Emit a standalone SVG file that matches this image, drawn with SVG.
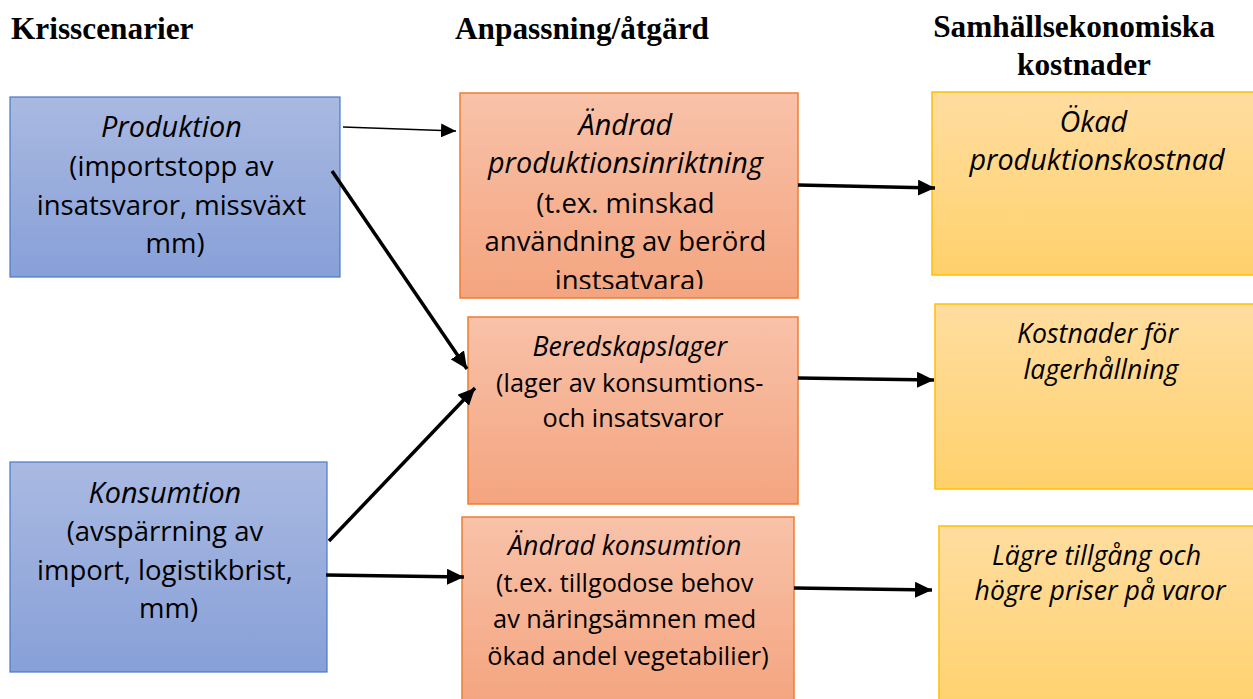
<svg xmlns="http://www.w3.org/2000/svg" width="1253" height="699" viewBox="0 0 1253 699">
  <defs>
    <linearGradient id="gBlue" x1="0" y1="0" x2="0" y2="1">
      <stop offset="0" stop-color="#A9B9E1"/>
      <stop offset="1" stop-color="#88A0D8"/>
    </linearGradient>
    <linearGradient id="gOrange" x1="0" y1="0" x2="0" y2="1">
      <stop offset="0" stop-color="#F8C2A9"/>
      <stop offset="1" stop-color="#F4A47F"/>
    </linearGradient>
    <linearGradient id="gYellow" x1="0" y1="0" x2="0" y2="1">
      <stop offset="0" stop-color="#FFDDA0"/>
      <stop offset="1" stop-color="#FFD16C"/>
    </linearGradient>
    <marker id="headThick" markerUnits="userSpaceOnUse" markerWidth="18" markerHeight="16" refX="17" refY="8" orient="auto">
      <path d="M0,0 L17,8 L0,16 Z" fill="#000"/>
    </marker>
    <marker id="headThin" markerUnits="userSpaceOnUse" markerWidth="16" markerHeight="14" refX="15" refY="7" orient="auto">
      <path d="M0,0 L15,7 L0,14 Z" fill="#000"/>
    </marker>
    <clipPath id="clipProd">
      <rect x="460" y="93" width="338" height="196"/>
    </clipPath>
    <style>
      .hdr { font-family: "Liberation Serif", "Times New Roman", serif; font-weight: bold; font-size: 31.3px; fill: #000; }
      .t { font-family: "Open Sans", "Noto Sans", sans-serif; fill: #000; text-anchor: middle; }
      .big { font-size: 27.5px; }
      .mid { font-size: 25.3px; }
      .itb { font-style: italic; font-size: 28.8px; }
      .itm { font-style: italic; font-size: 26.7px; }
      .blue { fill: url(#gBlue); stroke: #4A78C8; stroke-width: 1.2; }
      .orange { fill: url(#gOrange); stroke: #ED7D31; stroke-width: 1.5; }
      .yellow { fill: url(#gYellow); stroke: #FFC000; stroke-width: 1.5; }
      .thick { stroke: #000; stroke-width: 3.5; fill: none; marker-end: url(#headThick); }
      .thin { stroke: #000; stroke-width: 1.5; fill: none; marker-end: url(#headThin); }
    </style>
  </defs>

  <!-- column headings -->
  <g id="headings">
    <text class="hdr" x="11" y="39">Krisscenarier</text>
    <text class="hdr" x="455" y="39">Anpassning/åtgärd</text>
    <text class="hdr" x="1074" y="37" text-anchor="middle">Samhällsekonomiska</text>
    <text class="hdr" x="1084" y="75" text-anchor="middle">kostnader</text>
  </g>

  <!-- crisis scenarios -->
  <g id="produktion">
    <rect class="blue" x="10" y="97" width="330" height="180"/>
    <text class="t big" x="175">
      <tspan class="itb" x="175" y="137">Produktion</tspan>
      <tspan x="175" y="176">(importstopp av</tspan>
      <tspan x="175" y="215">insatsvaror, missväxt</tspan>
      <tspan x="175" y="253">mm)</tspan>
    </text>
  </g>

  <g id="konsumtion">
    <rect class="blue" x="10" y="462" width="317" height="210"/>
    <text class="t big" x="168.5">
      <tspan class="itb" x="168.5" y="503">Konsumtion</tspan>
      <tspan x="168.5" y="541">(avspärrning av</tspan>
      <tspan x="168.5" y="580">import, logistikbrist,</tspan>
      <tspan x="168.5" y="618">mm)</tspan>
    </text>
  </g>

  <!-- adaptation / measures -->
  <g id="andrad-produktion">
    <rect class="orange" x="460" y="93" width="338" height="205"/>
    <text class="t big" x="629" clip-path="url(#clipProd)">
      <tspan class="itb" x="629" y="135">Ändrad</tspan>
      <tspan class="itb" x="629" y="173">produktionsinriktning</tspan>
      <tspan x="629" y="213">(t.ex. minskad</tspan>
      <tspan x="629" y="251">användning av berörd</tspan>
      <tspan x="629" y="290">instsatvara)</tspan>
    </text>
  </g>

  <g id="beredskapslager">
    <rect class="orange" x="468" y="317" width="330" height="187"/>
    <text class="t mid" x="633">
      <tspan class="itm" x="633" y="356">Beredskapslager</tspan>
      <tspan x="633" y="392">(lager av konsumtions-</tspan>
      <tspan x="633" y="427">och insatsvaror</tspan>
    </text>
  </g>

  <g id="andrad-konsumtion">
    <rect class="orange" x="462" y="517" width="332" height="190"/>
    <text class="t mid" x="628">
      <tspan class="itm" x="628" y="555">Ändrad konsumtion</tspan>
      <tspan x="628" y="592">(t.ex. tillgodose behov</tspan>
      <tspan x="628" y="628">av näringsämnen med</tspan>
      <tspan x="628" y="665">ökad andel vegetabilier)</tspan>
    </text>
  </g>

  <!-- socio-economic costs -->
  <g id="okad-produktionskostnad">
    <rect class="yellow" x="932" y="92" width="330" height="183"/>
    <text class="t itb" x="1097">
      <tspan x="1097" y="132">Ökad</tspan>
      <tspan x="1097" y="170">produktionskostnad</tspan>
    </text>
  </g>

  <g id="lagerhallning">
    <rect class="yellow" x="935" y="304" width="330" height="185"/>
    <text class="t itm" x="1101">
      <tspan x="1101" y="343">Kostnader för</tspan>
      <tspan x="1101" y="379">lagerhållning</tspan>
    </text>
  </g>

  <g id="lagre-tillgang">
    <rect class="yellow" x="939" y="526" width="330" height="190"/>
    <text class="t itm" x="1100">
      <tspan x="1100" y="565">Lägre tillgång och</tspan>
      <tspan x="1100" y="600">högre priser på varor</tspan>
    </text>
  </g>

  <!-- connectors -->
  <g id="connectors">
    <line class="thin" x1="343" y1="127" x2="456" y2="131"/>
    <line class="thick" x1="332" y1="171" x2="467" y2="369"/>
    <line class="thick" x1="329" y1="541" x2="475" y2="388"/>
    <line class="thick" x1="326" y1="575" x2="464" y2="577"/>
    <line class="thick" x1="798" y1="185" x2="935" y2="188"/>
    <line class="thick" x1="798" y1="378" x2="934" y2="380"/>
    <line class="thick" x1="794" y1="588" x2="932" y2="590"/>
  </g>
</svg>
